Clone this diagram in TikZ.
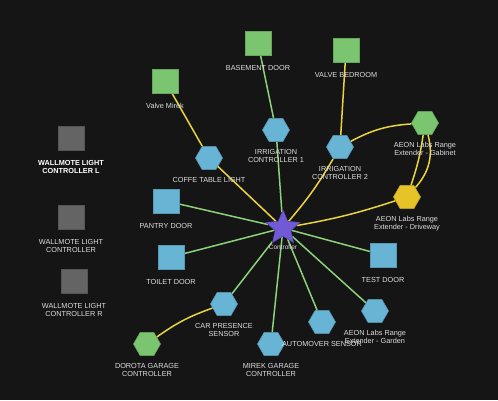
\documentclass[tikz,border=0pt]{standalone}
\usepackage{fontspec}
\setmainfont{Liberation Sans}
\usetikzlibrary{shapes.geometric,backgrounds}

\definecolor{bgdark}{RGB}{21,21,21}
\definecolor{devgreen}{RGB}{124,197,112}
\definecolor{devblue}{RGB}{104,180,212}
\definecolor{devyellow}{RGB}{230,196,40}
\definecolor{devgray}{RGB}{100,100,100}
\definecolor{ctrlpurple}{RGB}{112,90,214}
\definecolor{linkgreen}{RGB}{140,210,120}
\definecolor{linkyellow}{RGB}{236,212,60}
\definecolor{lbltext}{RGB}{222,222,222}

\tikzset{
  lbl/.style={text=lbltext, font=\fontsize{7.3}{8}\selectfont, align=center, inner sep=1pt, yshift=#1},
  lbl/.default=-6pt,
  hexdev/.style={regular polygon, regular polygon sides=6, minimum size=27pt, inner sep=0pt,
    fill=#1, draw=#1!85!black, line width=0.6pt},
  sqdev/.style={rectangle, minimum width=26pt, minimum height=24pt, inner sep=0pt,
    fill=#1, draw=#1!85!black, line width=0.6pt},
  ctrl/.style={star, star points=5, star point ratio=2.2, minimum size=36pt, inner sep=0pt,
    fill=ctrlpurple, draw=ctrlpurple!80!black, line width=0.5pt},
  glink/.style={draw=linkgreen, line width=1.5pt},
  ylink/.style={draw=linkyellow, line width=1.5pt}
}

\begin{document}
\begin{tikzpicture}[x=1pt,y=-1pt]

% controller
\node[ctrl, label={[lbl=-7pt, font=\fontsize{6.5}{7}\selectfont]below:Controller}] (controller) at (283,228) {};

% top
\node[sqdev=devgreen, label={[lbl=-9pt]below:BASEMENT DOOR}] (basement) at (258,43) {};
\node[sqdev=devgreen, label={[lbl=-9pt]below:Valve Mirek}] (valvemirek) at (165,81) {};
\node[sqdev=devgreen, label={[lbl=-9pt]below:VALVE BEDROOM}] (valvebed) at (346,50) {};
\node[hexdev=devblue, label={[lbl]below:IRRIGATION\\CONTROLLER 1}] (irr1) at (276,130) {};
\node[hexdev=devblue, label={[lbl]below:IRRIGATION\\CONTROLLER 2}] (irr2) at (340,147) {};
\node[hexdev=devgreen, label={[lbl]below:AEON Labs Range\\Extender - Gabinet}] (gabinet) at (425,123) {};
\node[hexdev=devyellow, label={[lbl]below:AEON Labs Range\\Extender - Driveway}] (driveway) at (407,197) {};
\node[hexdev=devblue, label={[lbl]below:COFFE TABLE LIGHT}] (coffee) at (209,158) {};

% left
\node[sqdev=devblue, label={[lbl=-9pt]below:PANTRY DOOR}] (pantry) at (166,201) {};
\node[sqdev=devblue, label={[lbl=-9pt]below:TOILET DOOR}] (toilet) at (171,257) {};
\node[hexdev=devblue, label={[lbl]below:CAR PRESENCE\\SENSOR}] (carsensor) at (224,304) {};
\node[hexdev=devgreen, label={[lbl]below:DOROTA GARAGE\\CONTROLLER}] (dorota) at (147,344) {};

% bottom / right
\node[hexdev=devblue, label={[lbl]below:MIREK GARAGE\\CONTROLLER}] (mirek) at (271,344) {};
\node[hexdev=devblue, label={[lbl]below:AUTOMOVER SENSOR}] (automover) at (322,322) {};
\node[hexdev=devblue, label={[lbl]below:AEON Labs Range\\Extender - Garden}] (garden) at (375,311) {};
\node[sqdev=devblue, label={[lbl=-9pt]below:TEST DOOR}] (testdoor) at (383,255) {};

% unlinked wallmotes
\node[sqdev=devgray, label={[lbl=-9pt, text=white, font=\bfseries\fontsize{7.3}{8}\selectfont]below:WALLMOTE LIGHT\\CONTROLLER L}] (wallL) at (71,138) {};
\node[sqdev=devgray, label={[lbl=-9pt]below:WALLMOTE LIGHT\\CONTROLLER}] (wallM) at (71,217) {};
\node[sqdev=devgray, label={[lbl=-9pt]below:WALLMOTE LIGHT\\CONTROLLER R}] (wallR) at (74,281) {};

\begin{scope}[on background layer]
\path[use as bounding box, fill=bgdark] (0,0) rectangle (498,400);

\draw[glink] (basement) -- (irr1);
\draw[glink] (irr1) -- (controller);
\draw[glink] (pantry) -- (controller);
\draw[glink] (toilet) -- (controller);
\draw[glink] (carsensor) -- (controller);
\draw[glink] (mirek) -- (controller);
\draw[glink] (automover) -- (controller);
\draw[glink] (garden) -- (controller);
\draw[glink] (testdoor) -- (controller);

\draw[ylink] (valvemirek) -- (coffee);
\draw[ylink] (coffee) -- (controller);
\draw[ylink] (valvebed) -- (irr2);
\draw[ylink] (irr2) to[bend left=5] (controller);
\draw[ylink] (irr2) to[bend left=12] (gabinet);
\draw[ylink] (gabinet) to[bend left=5] (driveway);
\draw[ylink] (gabinet) to[bend right=-28] (driveway);
\draw[ylink] (driveway) to[bend left=4] (controller);
\draw[ylink] (carsensor) to[bend right=8] (dorota);
\end{scope}

\end{tikzpicture}
\end{document}
